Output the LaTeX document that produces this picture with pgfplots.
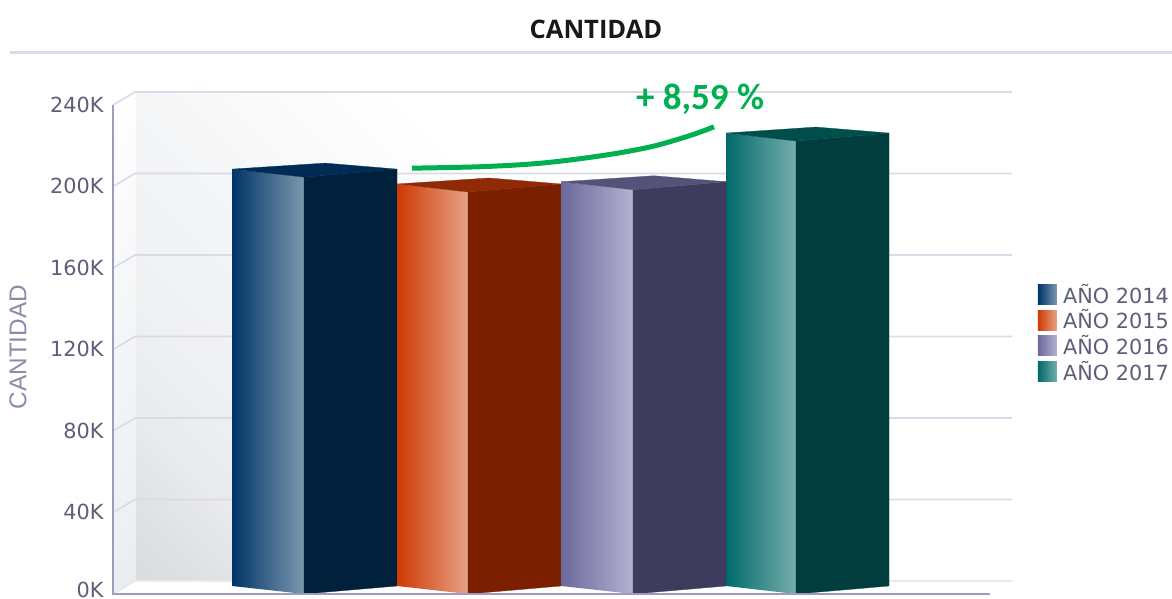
\documentclass[border=0pt]{standalone}
\usepackage{fontspec}
\setmainfont{DejaVu Sans}
\newfontfamily\annfont{Carlito}
\newfontfamily\titfont{Open Sans}
\newfontfamily\ylabfont{Liberation Sans}
\usepackage{pgfplots}
\pgfplotsset{compat=1.18}
\definecolor{wallgrid}{HTML}{DADAE8}
\definecolor{axline}{HTML}{9C9CC0}
\definecolor{ticktext}{HTML}{5E5E78}
\definecolor{ylab}{HTML}{8C8CA8}
\definecolor{anngreen}{HTML}{00B050}
\definecolor{aL}{HTML}{003468}\definecolor{aR}{HTML}{7C98AF}\definecolor{aF}{HTML}{00203C}\definecolor{aT}{HTML}{002B55}
\definecolor{bL}{HTML}{CF3A04}\definecolor{bR}{HTML}{E6A286}\definecolor{bF}{HTML}{7A2000}\definecolor{bT}{HTML}{8F2A04}
\definecolor{cL}{HTML}{6B689B}\definecolor{cR}{HTML}{B4B2D1}\definecolor{cF}{HTML}{3E3C5C}\definecolor{cT}{HTML}{55527A}
\definecolor{dL}{HTML}{00696A}\definecolor{dR}{HTML}{76AFAC}\definecolor{dF}{HTML}{003D3C}\definecolor{dT}{HTML}{004E4C}
\begin{document}
\begin{tikzpicture}[x=1pt,y=1pt]
\useasboundingbox (0,0) rectangle (1172pt,599pt);
\begin{axis}[
  at={(113pt,5pt)}, anchor=south west,
  scale only axis, width=877pt, height=489pt,
  xmin=113, xmax=990, ymin=0, ymax=240,
  clip=false,
  axis lines=left, axis line style={draw=axline, line width=1.6pt, -},
  xtick=\empty,
  ytick={0,40,80,120,160,200,240},
  yticklabels={\raisebox{3.5pt}[\height][0pt]{0K},40K,80K,120K,160K,200K,240K},
  major tick length=0pt,
  tick style={draw=none},
  yticklabel style={font=\fontsize{20.8}{22}\selectfont, text=ticktext, anchor=east, xshift=-6pt, yshift=0.5pt},
  ylabel={CANTIDAD},
  every axis y label/.style={at={(axis description cs:-0.1083,0.505)}, rotate=90, anchor=center,
     font=\ylabfont\fontsize{24.3}{26}\selectfont, text=ylab},
  title={CANTIDAD},
  every axis title/.style={at={(axis description cs:0.5507,1.1554)}, anchor=center,
     font=\titfont\bfseries\fontsize{25.5}{27}\selectfont, text=black!90},
  colormap={wallc}{rgb255(0pt)=(217,219,222) rgb255(107pt)=(224,225,227) rgb255(200pt)=(232,233,235) rgb255(373pt)=(239,240,241) rgb255(649pt)=(245,246,247) rgb255(1000pt)=(255,255,255)},
  colormap name=wallc,
  point meta min=0, point meta max=1,
  legend style={at={(axis description cs:1.0547,0.6380)}, anchor=north west, draw=none, fill=none,
     inner sep=0pt, outer sep=0pt, font=\fontsize{20.8}{22}\selectfont, text=ticktext,
     /tikz/every even column/.style={column sep=4pt},
     row sep=1.1pt, cells={anchor=west}},
  legend cell align=left,
  legend image code/.code={\path[#1,draw=none] (0pt,-10pt) rectangle (19pt,10pt);\path (23pt,0pt);},
]
% back wall and side wall
\addplot[forget plot, patch, shader=interp, point meta=explicit] table[meta=c] {
x y c
135 246.38 0.649
400 246.38 1
889 6.38 1
135 246.38 0.649
889 6.38 1
135 6.38 0
};
\addplot[forget plot, patch, shader=interp, point meta=explicit] table[meta=c] {
x y c
113 240 1
135 246.38 0.95
135 6.38 0.25
113 240 1
135 6.38 0.25
113 0 0.3
};
% grid
\addplot[forget plot, wallgrid, line width=1.6pt] coordinates {(113,240) (135,246.38) (1012,246.38)};
\addplot[forget plot, wallgrid, line width=1.6pt] coordinates {(113,200) (135,206.38) (1012,206.38)};
\addplot[forget plot, wallgrid, line width=1.6pt] coordinates {(113,160) (135,166.38) (1012,166.38)};
\addplot[forget plot, wallgrid, line width=1.6pt] coordinates {(113,120) (135,126.38) (1012,126.38)};
\addplot[forget plot, wallgrid, line width=1.6pt] coordinates {(113,80) (135,86.38) (1012,86.38)};
\addplot[forget plot, wallgrid, line width=1.6pt] coordinates {(113,40) (135,46.38) (1012,46.38)};
\addplot[forget plot, wallgrid!60, line width=1.6pt] coordinates {(113,0) (135,6.38) (1012,6.38)};
% title rule
\addplot[forget plot, wallgrid, line width=3pt] coordinates {(10,266) (1172,266)};
% bar 2014
\addplot[forget plot, draw=none, left color=aL, right color=aR] coordinates {(232,3.93) (304,0) (304,204.6) (232,208.53)} -- cycle;
\addplot[forget plot, draw=aF, line width=0.3pt, fill=aF] coordinates {(304,0) (397,3.93) (397,208.53) (304,204.6)} -- cycle;
\addplot[forget plot, draw=aT, line width=0.3pt, fill=aT] coordinates {(232,208.53) (304,204.6) (397,208.53) (325,211.47)} -- cycle;
% bar 2015
\addplot[forget plot, draw=none, left color=bL, right color=bR] coordinates {(397,3.93) (468,0) (468,197.3) (397,201.23)} -- cycle;
\addplot[forget plot, draw=bF, line width=0.3pt, fill=bF] coordinates {(468,0) (561,3.93) (561,201.23) (468,197.3)} -- cycle;
\addplot[forget plot, draw=bT, line width=0.3pt, fill=bT] coordinates {(397,201.23) (468,197.3) (561,201.23) (489,204.17)} -- cycle;
% bar 2016
\addplot[forget plot, draw=none, left color=cL, right color=cR] coordinates {(561,3.93) (633,0) (633,198.4) (561,202.33)} -- cycle;
\addplot[forget plot, draw=cF, line width=0.3pt, fill=cF] coordinates {(633,0) (726,3.93) (726,202.33) (633,198.4)} -- cycle;
\addplot[forget plot, draw=cT, line width=0.3pt, fill=cT] coordinates {(561,202.33) (633,198.4) (726,202.33) (654,205.27)} -- cycle;
% bar 2017
\addplot[forget plot, draw=none, left color=dL, right color=dR] coordinates {(726,3.93) (796,0) (796,222.3) (726,226.23)} -- cycle;
\addplot[forget plot, draw=dF, line width=0.3pt, fill=dF] coordinates {(796,0) (889,3.93) (889,226.23) (796,222.3)} -- cycle;
\addplot[forget plot, draw=dT, line width=0.3pt, fill=dT] coordinates {(726,226.23) (796,222.3) (889,226.23) (816,229.17)} -- cycle;
% front axis lines over the walls
\addplot[forget plot, axline, line width=1.6pt] coordinates {(113,240) (113,0) (990,0)};
% growth arc
\addplot[forget plot, anngreen, line width=5pt, smooth, tension=0.55] coordinates {(412,209.0) (480,209.7) (540,211.4) (600,215.0) (650,219.4) (690,225.0) (714,229.3)};
\node[anchor=center, text=anngreen, font=\annfont\bfseries\fontsize{37}{39}\selectfont] at (axis cs:700,243) {+ 8,59 \%};
% legend
\addlegendimage{left color=aL, right color=aR}\addlegendentry{AÑO 2014}
\addlegendimage{left color=bL, right color=bR}\addlegendentry{AÑO 2015}
\addlegendimage{left color=cL, right color=cR}\addlegendentry{AÑO 2016}
\addlegendimage{left color=dL, right color=dR}\addlegendentry{AÑO 2017}
\end{axis}
\end{tikzpicture}
\end{document}
